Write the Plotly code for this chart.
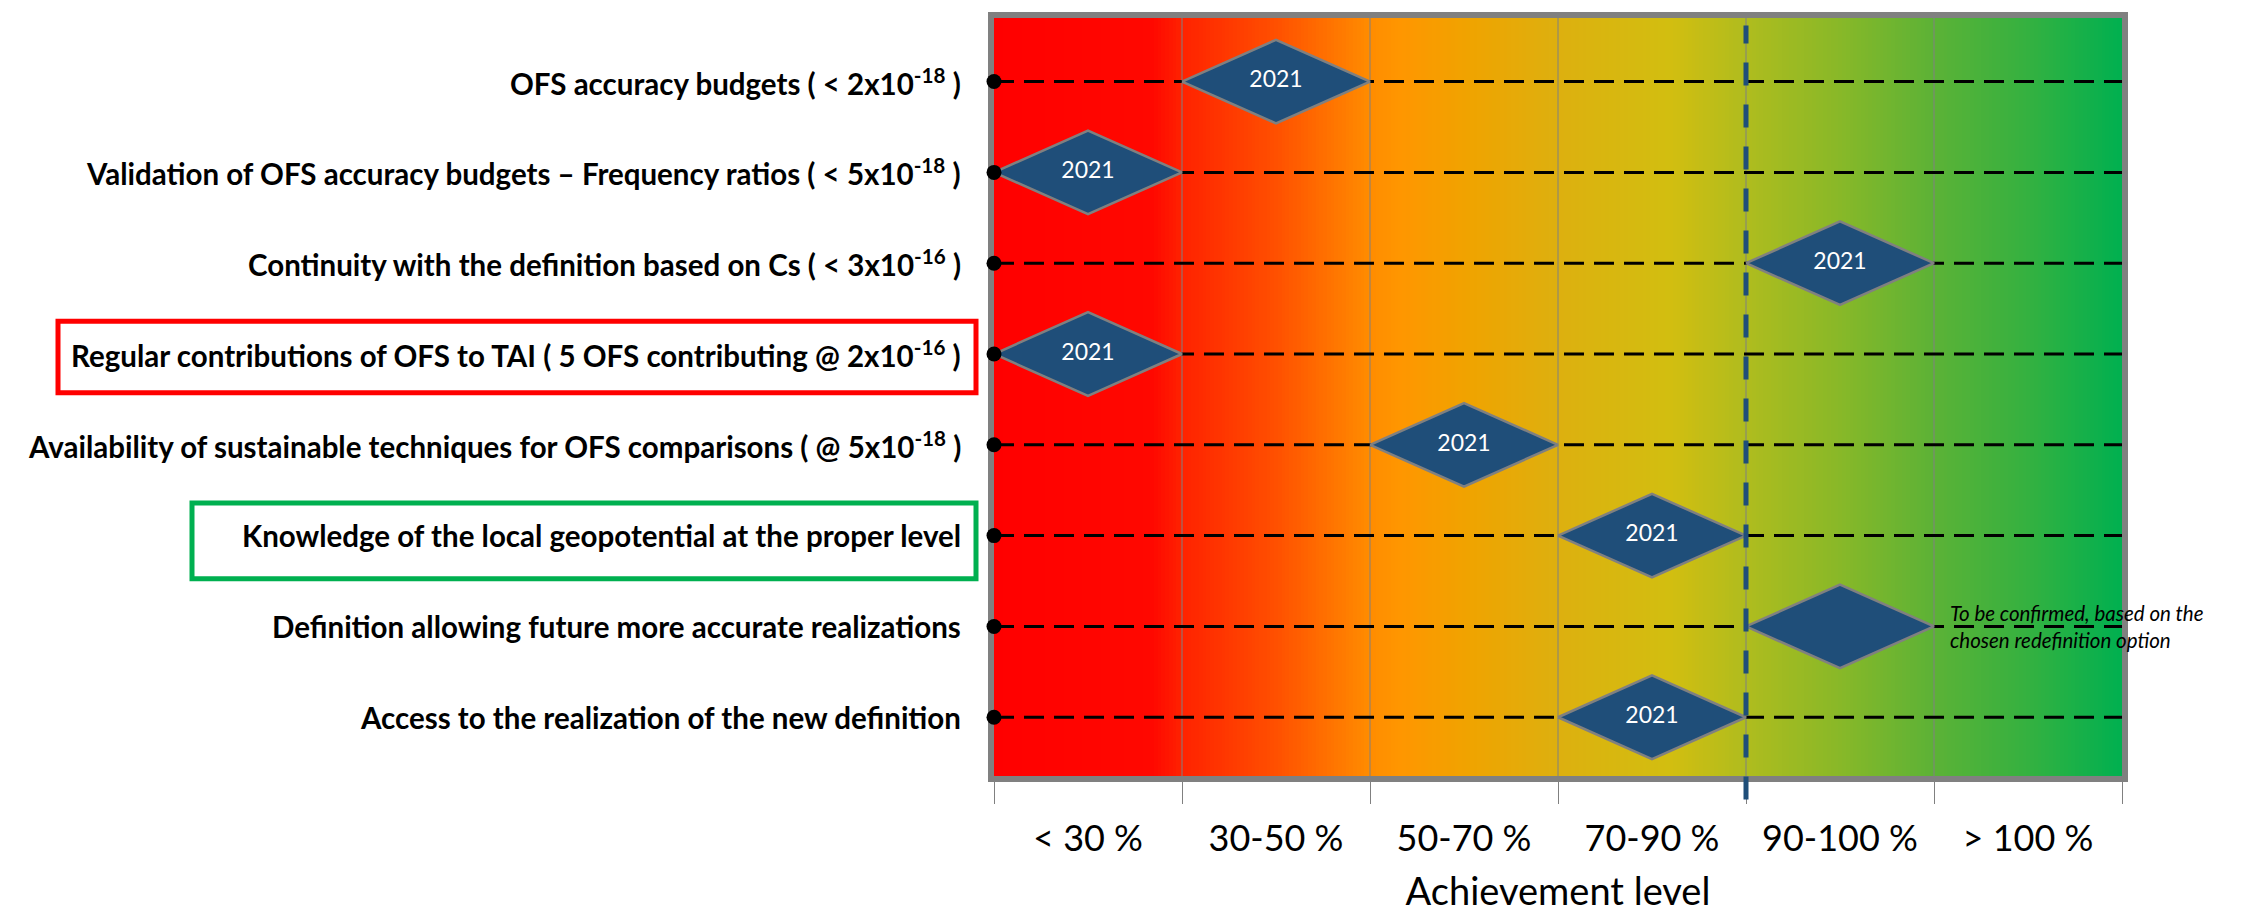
import numpy as np
import plotly.graph_objects as go

# ---------------- data ----------------
categories = ["< 30 %", "30-50 %", "50-70 %", "70-90 %", "90-100 %", "> 100 %"]
criteria = [
    "OFS accuracy budgets ( < 2x10<sup>-18</sup> )",
    "Validation of OFS accuracy budgets \u2013 Frequency ratios ( < 5x10<sup>-18</sup> )",
    "Continuity with the definition based on Cs ( < 3x10<sup>-16</sup> )",
    "Regular contributions of OFS to TAI ( 5 OFS contributing @ 2x10<sup>-16</sup> )",
    "Availability of sustainable techniques for OFS comparisons ( @ 5x10<sup>-18</sup> )",
    "Knowledge of the local geopotential at the proper level",
    "Definition allowing future more accurate realizations",
    "Access to the realization of the new definition",
]
level_index = [1, 0, 4, 0, 2, 3, 4, 3]          # achievement category of each criterion
diamond_text = ["2021", "2021", "2021", "2021", "2021", "2021", "", "2021"]
note_text = "To be confirmed, based on the<br>chosen redefinition option"
note_row = 7
threshold_x = 4                                   # dashed line between 70-90 % and 90-100 %
red_box_row = 4
green_box_row = 6

# ---------------- derived ----------------
n_cat = len(categories)
rows = list(range(1, len(criteria) + 1))
centers = [i + 0.5 for i in level_index]
Y_TOP, Y_BOT = 0.30, 8.647
HH = 0.46   # diamond half height (rows)
HW = 0.5    # diamond half width (bins)

FONT = "Lato, 'Open Sans', sans-serif"
DIAMOND_FILL = "#1F4E79"
GRAY = "#808080"

fig = go.Figure()

# gradient background
gx = np.linspace(0, n_cat, 301)
colorscale = [
    [0.0, "#FF0000"], [0.14, "#FF0800"], [0.1667, "#FF2200"], [0.25, "#FF5000"],
    [0.333, "#FF8C00"], [0.36, "#FF9600"], [0.42, "#F0A300"], [0.5, "#DDB00F"],
    [0.6, "#D2BE10"], [0.667, "#AFBC1E"], [0.75, "#88B828"], [0.833, "#5CB236"],
    [0.917, "#34B140"], [1.0, "#00B050"],
]
fig.add_trace(go.Heatmap(x=gx, y=[Y_TOP - 0.5, Y_BOT + 0.5], z=[gx, gx],
                         colorscale=colorscale, zmin=0, zmax=n_cat,
                         showscale=False, hoverinfo="skip"))

# category boundary lines
bx, by = [], []
for b in range(1, n_cat):
    bx += [b, b, None]
    by += [Y_TOP, Y_BOT, None]
fig.add_trace(go.Scatter(x=bx, y=by, mode="lines",
                         line=dict(color=GRAY, width=1), hoverinfo="skip", showlegend=False))

# dashed row lines
lx, ly = [], []
for r in rows:
    lx += [0, n_cat, None]
    ly += [r, r, None]
fig.add_trace(go.Scatter(x=lx, y=ly, mode="lines",
                         line=dict(color="black", width=3, dash="20px,10px"),
                         hoverinfo="skip", showlegend=False))

# diamonds
dx, dy = [], []
for c, r in zip(centers, rows):
    dx += [c - HW, c, c + HW, c, c - HW, None]
    dy += [r, r - HH, r, r + HH, r, None]
fig.add_trace(go.Scatter(x=dx, y=dy, mode="lines", fill="toself",
                         fillcolor=DIAMOND_FILL, line=dict(color=GRAY, width=2.5),
                         hoverinfo="skip", showlegend=False))
fig.add_trace(go.Scatter(x=centers, y=rows, mode="text", text=diamond_text,
                         textfont=dict(family=FONT, size=23, color="white"),
                         textposition="middle center", hoverinfo="skip", showlegend=False))

# dots at left
fig.add_trace(go.Scatter(x=[0] * len(rows), y=rows, mode="markers",
                         marker=dict(color="black", size=15), cliponaxis=False,
                         hoverinfo="skip", showlegend=False))

# criteria labels
for r, lab in zip(rows, criteria):
    fig.add_annotation(x=0, xref="paper", y=r, yref="y", text=lab, showarrow=False,
                       xanchor="right", yanchor="middle", xshift=-31, align="right",
                       font=dict(family=FONT, size=29.5, color="black", weight="bold"))

# note
fig.add_annotation(x=centers[note_row - 1] + HW, y=note_row, text=note_text, showarrow=False,
                   xanchor="left", yanchor="middle", xshift=14, align="left",
                   font=dict(family=FONT, size=20.5, color="black", style="italic"))

# highlight boxes
PLOT_W = 2122 - 994
fig.add_shape(type="rect", xref="paper", yref="y",
              x0=(58 - 994) / PLOT_W, x1=(976 - 994) / PLOT_W,
              y0=red_box_row - 0.36, y1=red_box_row + 0.427,
              line=dict(color="#FF0000", width=5), layer="above")
fig.add_shape(type="rect", xref="paper", yref="y",
              x0=(192 - 994) / PLOT_W, x1=(976 - 994) / PLOT_W,
              y0=green_box_row - 0.36, y1=green_box_row + 0.475,
              line=dict(color="#00B050", width=5), layer="above")

# threshold dashed line
fig.add_shape(type="line", xref="x", yref="y domain", x0=threshold_x, x1=threshold_x,
              y0=-0.031, y1=0.99, line=dict(color=DIAMOND_FILL, width=5, dash="23px,19px"),
              layer="above")

fig.update_layout(
    width=2261, height=915,
    margin=dict(l=986, r=147, t=4, b=147),
    paper_bgcolor="white", plot_bgcolor="white",
    showlegend=False,
    font=dict(family=FONT),
)
fig.update_xaxes(range=[0, n_cat], tickmode="array",
                 tickvals=[i + 0.5 for i in range(n_cat)], ticktext=categories,
                 ticks="", showgrid=False, zeroline=False,
                 tickfont=dict(family=FONT, size=36, color="black"),
                 ticklabelstandoff=26,
                 minor=dict(tickmode="linear", tick0=0, dtick=1, ticks="outside",
                            ticklen=22, tickwidth=1, tickcolor=GRAY, showgrid=False),
                 showline=True, mirror=True, linecolor=GRAY, linewidth=6,
                 layer="below traces",
                 title=dict(text="Achievement level",
                            font=dict(family=FONT, size=38, color="black"), standoff=22),
                 fixedrange=True)
fig.update_yaxes(range=[Y_BOT, Y_TOP], showticklabels=False, ticks="", showgrid=False,
                 zeroline=False, showline=True, mirror=True, linecolor=GRAY, linewidth=6,
                 layer="below traces", fixedrange=True)

fig.write_html("out.html")
